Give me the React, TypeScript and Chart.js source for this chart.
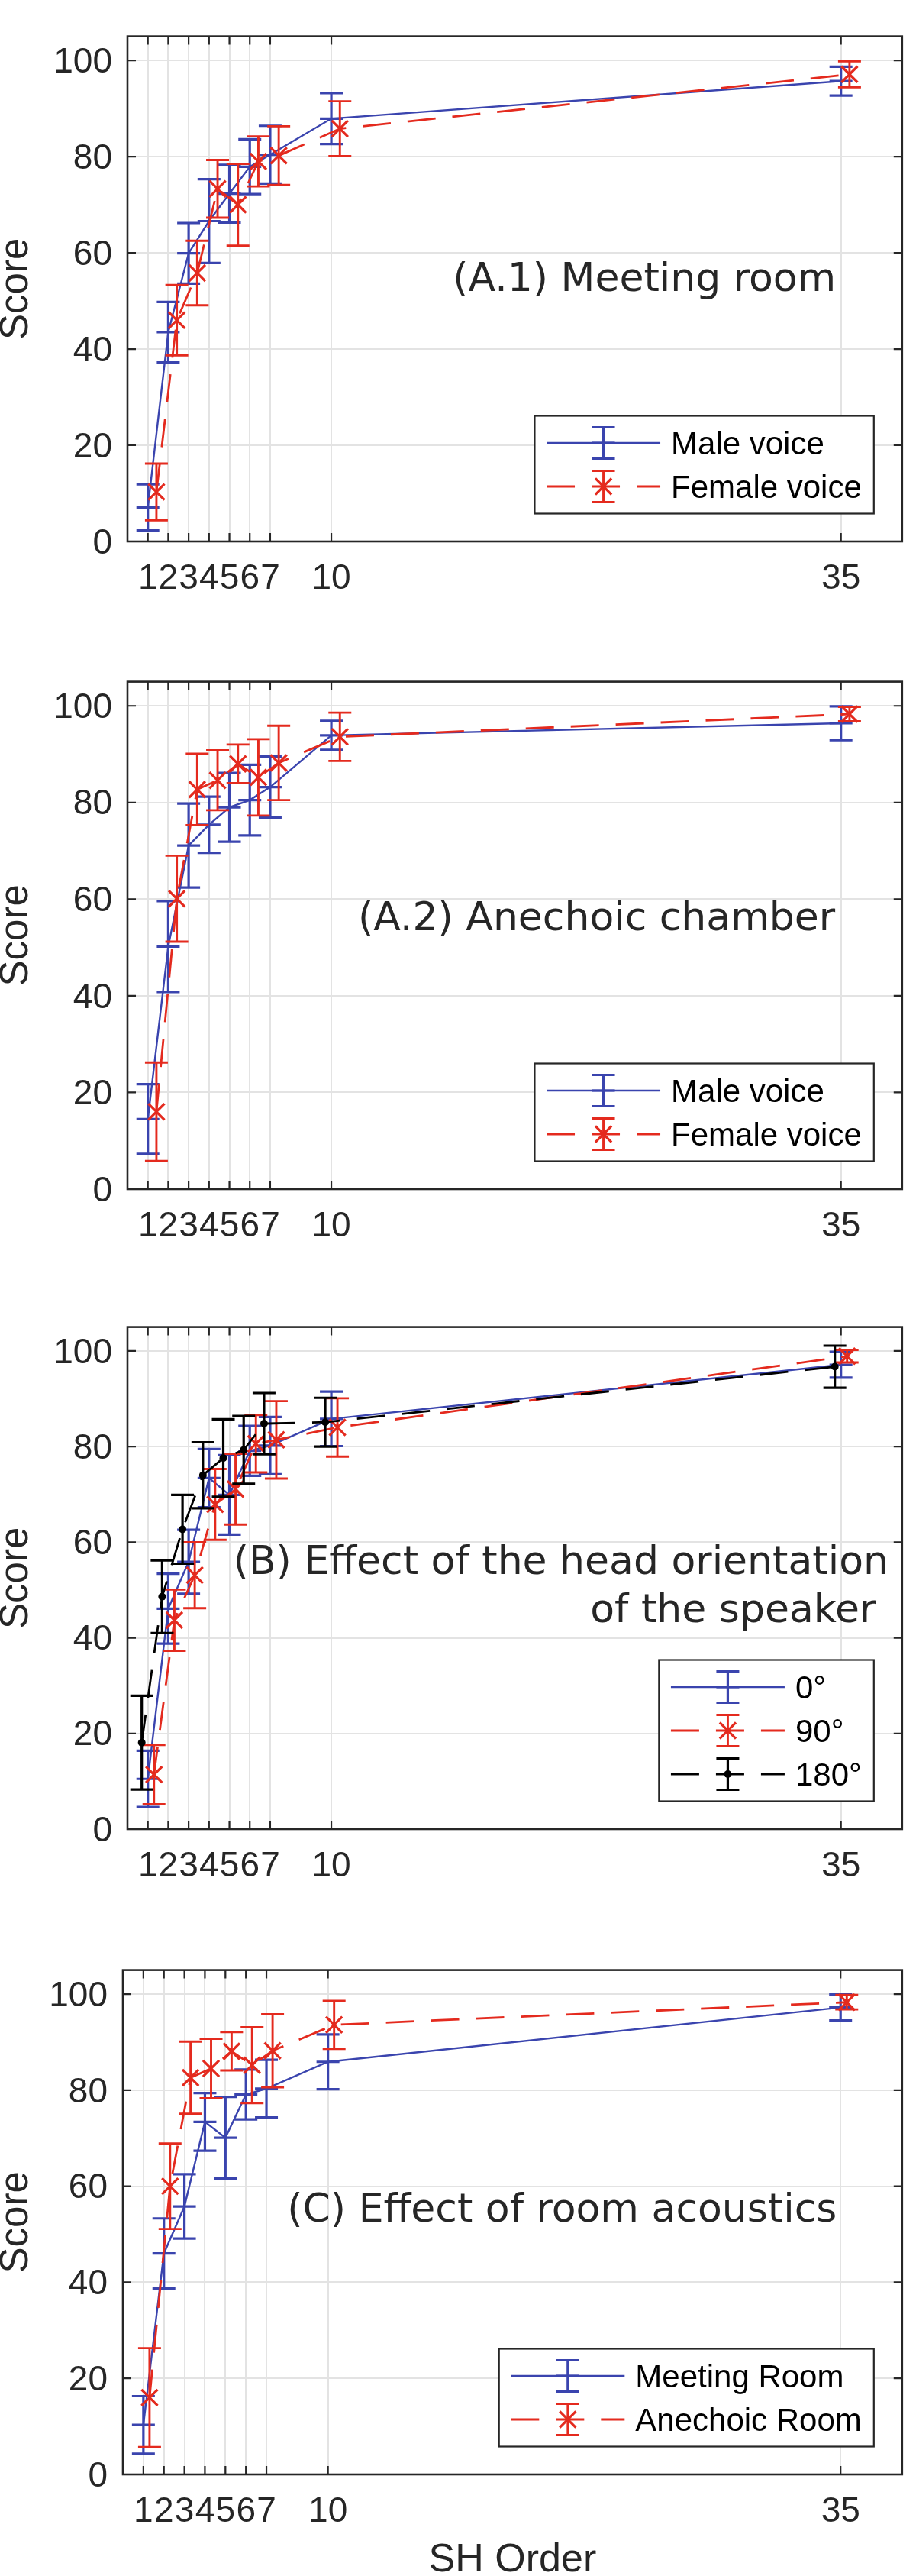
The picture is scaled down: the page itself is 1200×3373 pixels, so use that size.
import { useEffect, useRef } from 'react';
import { Chart, registerables } from 'chart.js';

Chart.register(...registerables);

const orders = [1, 2, 3, 4, 5, 6, 7, 10, 35];
const xTicks = [1, 2, 3, 4, 5, 6, 7, 10, 35];
const yTicks = [0, 20, 40, 60, 80, 100];

// (A.1) meeting room
const meetingMaleMean = [7.1, 43.5, 59.9, 66.6, 72.3, 77.9, 80.4, 87.9, 95.7];
const meetingMaleErr = [4.8, 6.3, 6.3, 8.7, 6.0, 5.7, 6.0, 5.3, 3.0];
const meetingFemaleMean = [10.3, 46.0, 55.8, 73.3, 70.0, 79.0, 80.2, 85.8, 97.1];
const meetingFemaleErr = [5.9, 7.3, 6.7, 6.0, 8.5, 5.2, 6.1, 5.7, 2.7];

// (A.2) anechoic chamber
const anechoicMaleMean = [14.5, 50.2, 71.1, 75.4, 79.0, 80.5, 83.2, 93.9, 96.4];
const anechoicMaleErr = [7.2, 9.4, 8.7, 5.8, 7.1, 7.3, 6.3, 3.0, 3.5];
const anechoicFemaleMean = [16.0, 60.1, 82.7, 84.6, 88.0, 85.2, 88.2, 93.6, 98.3];
const anechoicFemaleErr = [10.2, 8.9, 7.4, 6.2, 4.0, 7.9, 7.7, 5.0, 1.5];

// (B) head orientation of the speaker
const head0Mean = [10.5, 46.1, 55.9, 73.4, 69.9, 79.1, 80.2, 85.8, 97.1];
const head0Err = [5.9, 7.3, 6.7, 6.1, 8.3, 5.2, 6.0, 5.7, 2.7];
const head90Mean = [11.4, 43.7, 53.1, 67.9, 71.1, 80.6, 81.4, 84.0, 98.9];
const head90Err = [6.2, 6.4, 6.9, 7.4, 7.4, 6.0, 8.1, 6.1, 1.3];
const head180Mean = [18.1, 48.6, 62.7, 74.0, 77.6, 79.3, 84.8, 85.1, 96.7];
const head180Err = [9.8, 7.6, 7.2, 6.9, 8.1, 7.1, 6.4, 5.1, 4.4];

// (C) room acoustics
const roomMeetingMean = [10.3, 46.0, 55.8, 73.4, 70.1, 79.1, 80.3, 85.9, 97.2];
const roomMeetingErr = [6.0, 7.3, 6.7, 6.0, 8.5, 5.2, 6.0, 5.7, 2.7];
const roomAnechoicMean = [16.0, 60.0, 82.6, 84.5, 88.1, 85.2, 88.2, 93.6, 98.3];
const roomAnechoicErr = [10.3, 8.9, 7.5, 6.2, 4.0, 7.9, 7.6, 5.0, 1.5];

const TEXT = '#262626';
const GRID = '#e3e3e3';
const CAP = 15;

const blue = { color: '#3a44ae', lineWidth: 2.4, dash: [] as number[], pointStyle: 'line', radius: 15, pointWidth: 3.2, barWidth: 3.2, order: 3 };
const red = { color: '#e42a1e', lineWidth: 2.8, dash: [37, 22], pointStyle: 'crossRot', radius: 15, pointWidth: 3.2, barWidth: 2.9, order: 2 };
const black = { color: '#000000', lineWidth: 2.8, dash: [37, 22], pointStyle: 'circle', radius: 5, pointWidth: 0, barWidth: 3.2, order: 1 };

function series(label: string, style: any, mean: number[], err: number[], shift: number) {
  return { label, style, mean, err, shift };
}

const panels = [
  {
    top: 0, height: 845, left: 167, right: 1195, xHeight: 136, xTitle: false,
    note: { lines: ['(A.1) Meeting room'], x: 34.76, y: [52.05] },
    series: [
      series('Male voice', blue, meetingMaleMean, meetingMaleErr, 0),
      series('Female voice', red, meetingFemaleMean, meetingFemaleErr, 0.42),
    ],
  },
  {
    top: 845, height: 845, left: 167, right: 1195, xHeight: 133, xTitle: false,
    note: { lines: ['(A.2) Anechoic chamber'], x: 34.72, y: [53.6] },
    series: [
      series('Male voice', blue, anechoicMaleMean, anechoicMaleErr, 0),
      series('Female voice', red, anechoicFemaleMean, anechoicFemaleErr, 0.42),
    ],
  },
  {
    top: 1690, height: 842, left: 167, right: 1195, xHeight: 137, xTitle: false,
    note: { lines: ['(B) Effect of the head orientation', 'of the speaker '], x: 37.33, y: [53.3, 43.3] },
    series: [
      series('0°', blue, head0Mean, head0Err, 0),
      series('90°', red, head90Mean, head90Err, 0.3),
      series('180°', black, head180Mean, head180Err, -0.3),
    ],
  },
  {
    top: 2532, height: 841, left: 161, right: 1194, xHeight: 133, xTitle: true,
    note: { lines: ['(C) Effect of room acoustics'], x: 34.82, y: [52.6] },
    series: [
      series('Meeting Room', blue, roomMeetingMean, roomMeetingErr, 0),
      series('Anechoic Room', red, roomAnechoicMean, roomAnechoicErr, 0.3),
    ],
  },
];

function drawMarker(ctx: CanvasRenderingContext2D, s: any, x: number, y: number) {
  ctx.save();
  ctx.setLineDash([]);
  ctx.strokeStyle = s.color;
  ctx.fillStyle = s.color;
  ctx.lineWidth = s.pointWidth;
  ctx.beginPath();
  if (s.pointStyle === 'line') {
    ctx.moveTo(x - s.radius, y);
    ctx.lineTo(x + s.radius, y);
    ctx.stroke();
  } else if (s.pointStyle === 'crossRot') {
    const d = s.radius * Math.SQRT1_2;
    ctx.moveTo(x - d, y - d);
    ctx.lineTo(x + d, y + d);
    ctx.moveTo(x + d, y - d);
    ctx.lineTo(x - d, y + d);
    ctx.stroke();
  } else {
    ctx.arc(x, y, s.radius, 0, Math.PI * 2);
    ctx.fill();
  }
  ctx.restore();
}

const errorBars = {
  id: 'errorBars',
  beforeDatasetDraw(chart: any, args: any) {
    const ds = chart.data.datasets[args.index];
    if (!ds.errors) return;
    const { ctx, scales } = chart;
    const { x, y } = scales;
    ctx.save();
    ctx.setLineDash([]);
    ctx.strokeStyle = ds.borderColor;
    ctx.lineWidth = ds.barWidth;
    ctx.beginPath();
    ds.data.forEach((p: any, i: number) => {
      const px = x.getPixelForValue(p.x);
      const hi = y.getPixelForValue(p.y + ds.errors[i]);
      const lo = y.getPixelForValue(p.y - ds.errors[i]);
      ctx.moveTo(px, hi);
      ctx.lineTo(px, lo);
      ctx.moveTo(px - CAP, hi);
      ctx.lineTo(px + CAP, hi);
      ctx.moveTo(px - CAP, lo);
      ctx.lineTo(px + CAP, lo);
    });
    ctx.stroke();
    ctx.restore();
  },
};

const axesBox = {
  id: 'axesBox',
  afterDatasetsDraw(chart: any) {
    const { ctx, chartArea: a, scales } = chart;
    const { x, y } = scales;
    ctx.save();
    ctx.setLineDash([]);
    ctx.strokeStyle = TEXT;
    ctx.lineWidth = 2.2;
    ctx.beginPath();
    x.ticks.forEach((t: any) => {
      const px = x.getPixelForValue(t.value);
      ctx.moveTo(px, a.bottom);
      ctx.lineTo(px, a.bottom - 11);
      ctx.moveTo(px, a.top);
      ctx.lineTo(px, a.top + 11);
    });
    y.ticks.forEach((t: any) => {
      const py = y.getPixelForValue(t.value);
      ctx.moveTo(a.left, py);
      ctx.lineTo(a.left + 11, py);
      ctx.moveTo(a.right, py);
      ctx.lineTo(a.right - 11, py);
    });
    ctx.stroke();
    ctx.lineWidth = 2.6;
    ctx.strokeRect(a.left, a.top, a.right - a.left, a.bottom - a.top);
    ctx.restore();
  },
};

function makeDecor(panel: any) {
  return {
    id: 'decor',
    afterDraw(chart: any) {
      const { ctx, chartArea: a, scales } = chart;
      const { x, y } = scales;
      ctx.save();

      // note text
      ctx.font = '52px "DejaVu Sans"';
      ctx.fillStyle = TEXT;
      ctx.textAlign = 'right';
      ctx.textBaseline = 'alphabetic';
      panel.note.lines.forEach((line: string, i: number) => {
        ctx.fillText(line, x.getPixelForValue(panel.note.x), y.getPixelForValue(panel.note.y[i]));
      });

      // legend
      ctx.font = '42px "Liberation Sans"';
      const textW = Math.max(...panel.series.map((s: any) => ctx.measureText(s.label).width));
      const rowGap = 57;
      const w = 15.6 + 163 + textW + 16;
      const h = 71 + rowGap * (panel.series.length - 1);
      const right = a.right - 37;
      const bottom = a.bottom - 36.5;
      const left = right - w;
      const top = bottom - h;
      ctx.fillStyle = '#ffffff';
      ctx.fillRect(left, top, w, h);
      ctx.strokeStyle = TEXT;
      ctx.lineWidth = 2.2;
      ctx.strokeRect(left, top, w, h);

      panel.series.forEach((s: any, i: number) => {
        const st = s.style;
        const ry = top + 35.5 + i * rowGap;
        const x0 = left + 15.6;
        const xm = x0 + 74.5;
        ctx.strokeStyle = st.color;
        ctx.lineWidth = st.lineWidth;
        ctx.setLineDash(st.dash);
        ctx.beginPath();
        ctx.moveTo(x0, ry);
        ctx.lineTo(x0 + 149, ry);
        ctx.stroke();
        ctx.setLineDash([]);
        ctx.lineWidth = st.barWidth;
        ctx.beginPath();
        ctx.moveTo(xm, ry - 20.5);
        ctx.lineTo(xm, ry + 20.5);
        ctx.moveTo(xm - CAP, ry - 20.5);
        ctx.lineTo(xm + CAP, ry - 20.5);
        ctx.moveTo(xm - CAP, ry + 20.5);
        ctx.lineTo(xm + CAP, ry + 20.5);
        ctx.stroke();
        drawMarker(ctx, st, xm, ry);
        ctx.fillStyle = '#000000';
        ctx.textAlign = 'left';
        ctx.textBaseline = 'alphabetic';
        ctx.fillText(s.label, x0 + 163, ry + 15);
      });
      ctx.restore();
    },
  };
}

function Panel({ panel }: { panel: any }) {
  const ref = useRef<HTMLCanvasElement | null>(null);

  useEffect(() => {
    if (!ref.current) return;
    const ctx = ref.current.getContext('2d');
    if (!ctx) return;
    const tickFont = { family: '"Liberation Sans"', size: 46 };
    const chart = new Chart(ctx, {
      type: 'line',
      data: {
        datasets: panel.series.map((s: any) => ({
          label: s.label,
          data: orders.map((o, i) => ({ x: o + s.shift, y: s.mean[i] })),
          errors: s.err,
          barWidth: s.style.barWidth,
          order: s.style.order,
          borderColor: s.style.color,
          backgroundColor: s.style.color,
          borderWidth: s.style.lineWidth,
          borderDash: s.style.dash,
          pointStyle: s.style.pointStyle,
          pointRadius: s.style.radius,
          pointBorderWidth: s.style.pointWidth,
          pointBorderColor: s.style.color,
          pointBackgroundColor: s.style.color,
          tension: 0,
          fill: false,
        })),
      } as any,
      options: {
        responsive: false,
        animation: false,
        layout: { padding: { top: 15, left: 0, right: 1200 - panel.right, bottom: 0 } },
        plugins: { legend: { display: false }, tooltip: { enabled: false } },
        scales: {
          x: {
            type: 'linear',
            min: 0,
            max: 38,
            afterBuildTicks: (s: any) => {
              s.ticks = xTicks.map((v) => ({ value: v }));
            },
            afterFit: (s: any) => {
              s.height = panel.xHeight;
            },
            grid: { color: GRID, lineWidth: 2, drawTicks: false },
            border: { display: false },
            ticks: {
              autoSkip: false,
              maxRotation: 0,
              minRotation: 0,
              padding: 22,
              color: TEXT,
              font: tickFont,
              callback: (v: any) => String(v),
            },
            title: {
              display: panel.xTitle,
              text: 'SH Order',
              color: TEXT,
              font: { family: '"Liberation Sans"', size: 52, lineHeight: 0.78 },
              padding: 0,
            },
          },
          y: {
            type: 'linear',
            min: 0,
            max: 105,
            afterBuildTicks: (s: any) => {
              s.ticks = yTicks.map((v) => ({ value: v }));
            },
            afterFit: (s: any) => {
              s.width = panel.left;
            },
            grid: { color: GRID, lineWidth: 2, drawTicks: false },
            border: { display: false },
            ticks: { padding: 20, labelOffset: 3, color: TEXT, font: tickFont },
            title: {
              display: true,
              text: 'Score',
              color: TEXT,
              font: { family: '"Liberation Sans"', size: 51, lineHeight: 0.86 },
              padding: 0,
            },
          },
        },
      } as any,
      plugins: [errorBars, axesBox, makeDecor(panel)],
    });
    return () => chart.destroy();
  }, [panel]);

  return (
    <canvas
      ref={ref}
      width={1200}
      height={panel.height}
      style={{ position: 'absolute', left: 0, top: panel.top, width: 1200, height: panel.height }}
    />
  );
}

export default function App() {
  return (
    <div style={{ position: 'absolute', left: 0, top: 0, width: 1200, height: 3373, background: '#ffffff' }}>
      {panels.map((p, i) => (
        <Panel key={i} panel={p} />
      ))}
    </div>
  );
}
